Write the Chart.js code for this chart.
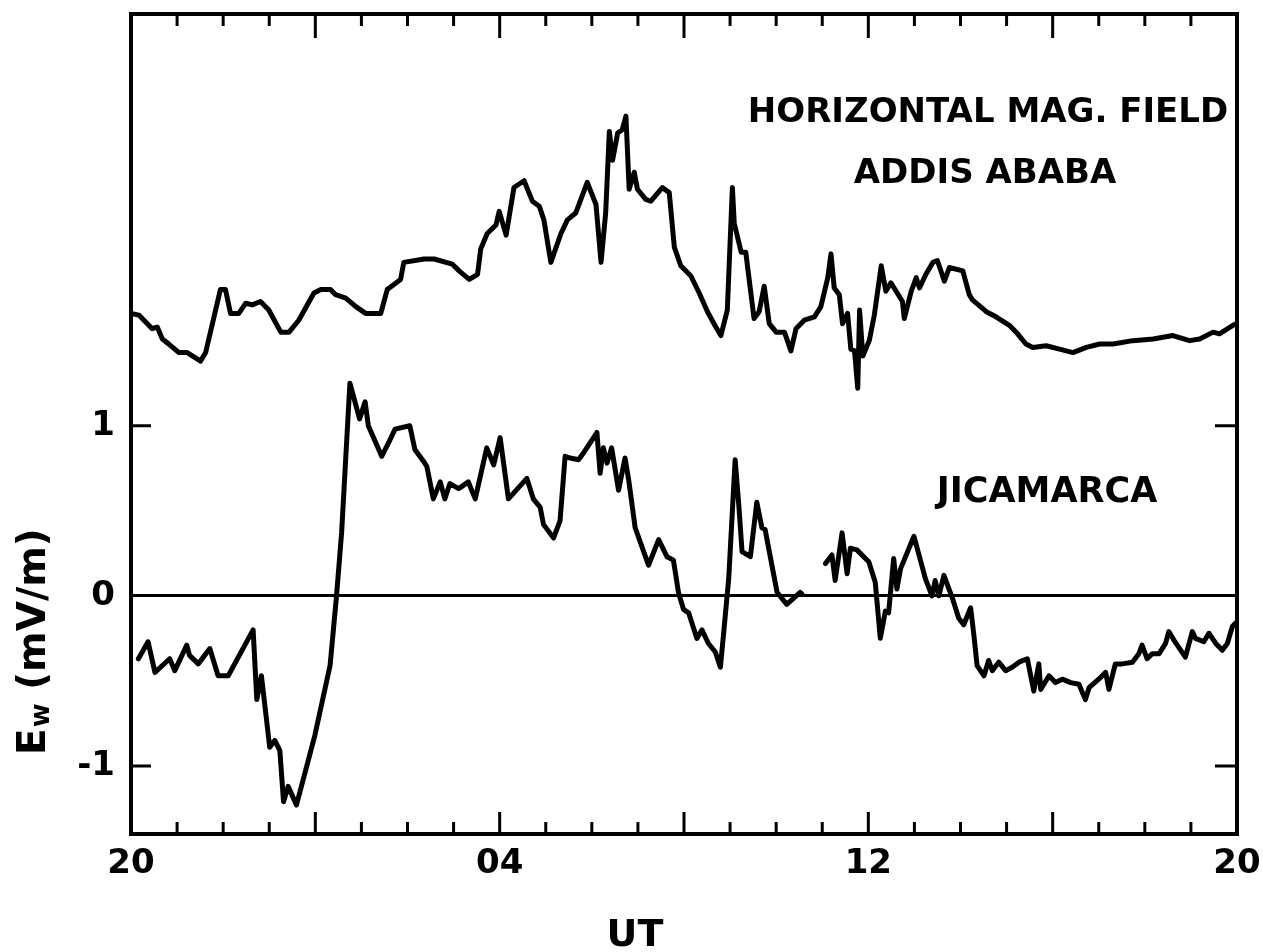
<!DOCTYPE html>
<html>
<head>
<meta charset="utf-8">
<title>Ew Jicamarca and H Addis Ababa</title>
<script src="https://cdn.jsdelivr.net/npm/chart.js@4.4.1/dist/chart.umd.min.js"></script>
<style>
  html, body { margin: 0; padding: 0; background: #fff; }
</style>
</head>
<body>
<canvas id="ewChart" width="1263" height="952"></canvas>
<script>
// Hours counted from 20 UT (0) to 20 UT next day (24)
const tickHours = [0, 8, 16, 24];
const hourLabels = ['20', '04', '12', '20'];
const yTickValues = [-1, 0, 1];
const yTickLabels = ['-1', '0', '1'];

// Horizontal magnetic field, Addis Ababa (drawn on the E axis, arbitrary offset)
const addisHours = [0.0,0.17,0.46,0.57,0.68,0.82,1.04,1.22,1.51,1.62,
  1.94,2.05,2.16,2.34,2.49,2.63,2.81,2.99,3.25,3.43,
  3.64,3.97,4.12,4.33,4.44,4.66,4.88,5.09,5.42,5.56,
  5.85,5.92,6.36,6.58,6.97,7.12,7.34,7.52,7.59,7.73,
  7.92,7.99,8.14,8.31,8.53,8.71,8.86,8.96,9.11,9.33,
  9.47,9.65,9.90,10.09,10.20,10.30,10.38,10.45,10.56,10.66,
  10.74,10.81,10.92,10.99,11.17,11.28,11.53,11.68,11.79,11.93,
  12.15,12.33,12.51,12.69,12.80,12.94,13.05,13.09,13.24,13.34,
  13.52,13.63,13.74,13.85,14.00,14.18,14.32,14.43,14.61,14.83,
  14.97,15.12,15.19,15.26,15.37,15.44,15.55,15.62,15.70,15.77,
  15.81,15.88,16.02,16.13,16.28,16.38,16.49,16.74,16.78,16.93,
  17.04,17.11,17.25,17.40,17.50,17.65,17.76,18.05,18.19,18.26,
  18.56,18.77,19.06,19.24,19.42,19.57,19.86,20.15,20.44,20.73,
  21.02,21.31,21.74,22.18,22.61,22.97,23.19,23.48,23.62,23.91,
  24.0];
const addisH = [1.66,1.65,1.57,1.58,1.51,1.48,1.43,1.43,1.38,1.43,
  1.80,1.80,1.66,1.66,1.72,1.71,1.73,1.68,1.55,1.55,
  1.62,1.78,1.80,1.80,1.77,1.75,1.70,1.66,1.66,1.80,
  1.86,1.96,1.98,1.98,1.95,1.91,1.86,1.89,2.04,2.13,
  2.18,2.26,2.12,2.40,2.44,2.32,2.29,2.21,1.96,2.13,
  2.21,2.25,2.43,2.30,1.96,2.25,2.73,2.56,2.72,2.74,
  2.82,2.39,2.49,2.39,2.33,2.32,2.40,2.37,2.05,1.94,
  1.88,1.78,1.67,1.58,1.53,1.68,2.40,2.19,2.02,2.02,
  1.63,1.67,1.82,1.60,1.55,1.55,1.44,1.57,1.62,1.64,
  1.70,1.87,2.01,1.81,1.77,1.60,1.66,1.45,1.44,1.22,
  1.68,1.41,1.50,1.65,1.94,1.79,1.84,1.73,1.63,1.79,
  1.87,1.81,1.89,1.96,1.97,1.85,1.93,1.91,1.77,1.74,
  1.67,1.64,1.59,1.54,1.48,1.46,1.47,1.45,1.43,1.46,
  1.48,1.48,1.50,1.51,1.53,1.50,1.51,1.55,1.54,1.59,
  1.60];

// Jicamarca westward electric field Ew in mV/m; null marks the data gap
const jicHours = [0.16,0.37,0.52,0.84,0.95,1.21,1.27,1.46,1.71,1.89,
  2.11,2.65,2.73,2.83,3.01,3.12,3.23,3.31,3.41,3.59,
  3.99,4.32,4.46,4.57,4.75,4.96,5.08,5.15,5.44,5.59,
  5.73,6.05,6.16,6.35,6.42,6.56,6.71,6.81,6.92,7.11,
  7.32,7.47,7.72,7.87,8.01,8.19,8.59,8.73,8.88,8.95,
  9.17,9.31,9.42,9.53,9.71,9.82,10.11,10.18,10.25,10.33,
  10.43,10.58,10.72,10.80,10.94,11.23,11.45,11.63,11.77,11.88,
  11.99,12.10,12.28,12.39,12.53,12.68,12.79,12.86,12.97,13.11,
  13.19,13.26,13.44,13.58,13.69,13.76,13.95,14.02,14.23,14.52,
  14.56,14.80,
  15.07,15.21,15.28,15.43,15.54,15.61,15.75,16.01,16.15,16.26,
  16.37,16.44,16.55,16.62,16.70,16.99,17.24,17.38,17.45,17.53,
  17.64,17.82,17.96,18.07,18.22,18.29,18.36,18.51,18.61,18.69,
  18.83,18.98,19.12,19.27,19.45,19.59,19.70,19.74,19.92,20.06,
  20.21,20.39,20.57,20.71,20.79,21.00,21.15,21.22,21.36,21.51,
  21.73,21.87,21.94,22.05,22.16,22.31,22.45,22.52,22.63,22.88,
  23.03,23.10,23.28,23.39,23.54,23.68,23.79,23.90,23.97];
const jicEw = [-0.37,-0.27,-0.45,-0.37,-0.44,-0.29,-0.35,-0.40,-0.31,-0.47,
  -0.47,-0.20,-0.61,-0.47,-0.89,-0.85,-0.91,-1.21,-1.12,-1.23,
  -0.82,-0.41,0.00,0.37,1.25,1.04,1.14,1.00,0.82,0.90,
  0.98,1.00,0.86,0.79,0.76,0.57,0.67,0.57,0.66,0.63,
  0.67,0.57,0.87,0.77,0.93,0.57,0.69,0.57,0.52,0.42,
  0.34,0.44,0.82,0.81,0.80,0.84,0.96,0.72,0.87,0.78,
  0.87,0.62,0.81,0.68,0.40,0.18,0.33,0.23,0.21,0.02,
  -0.08,-0.10,-0.25,-0.20,-0.28,-0.33,-0.42,-0.22,0.10,0.80,
  0.53,0.26,0.23,0.55,0.40,0.39,0.12,0.02,-0.05,0.02,
  0.01,null,
  0.19,0.24,0.09,0.37,0.13,0.28,0.27,0.20,0.08,-0.25,
  -0.09,-0.10,0.22,0.04,0.16,0.35,0.10,0.00,0.09,0.00,
  0.12,-0.01,-0.13,-0.17,-0.07,-0.23,-0.41,-0.47,-0.38,-0.44,
  -0.39,-0.44,-0.42,-0.39,-0.37,-0.56,-0.40,-0.55,-0.47,-0.51,
  -0.49,-0.51,-0.52,-0.61,-0.54,-0.49,-0.45,-0.55,-0.40,-0.40,
  -0.39,-0.34,-0.29,-0.37,-0.34,-0.34,-0.28,-0.21,-0.26,-0.36,
  -0.21,-0.25,-0.27,-0.22,-0.28,-0.32,-0.28,-0.18,-0.16];

const FONT = "'DejaVu Sans', 'Noto Sans', sans-serif";

function toPoints(xs, ys) {
  return xs.map((h, i) => ({ x: h, y: ys[i] }));
}

// box, inward tick marks and the lettering
const frameAndText = {
  id: 'frameAndText',
  afterDraw(chart) {
    const { ctx, chartArea: a, scales: { x, y } } = chart;
    ctx.save();
    ctx.strokeStyle = '#000';
    ctx.fillStyle = '#000';

    ctx.lineWidth = 3;
    ctx.beginPath();
    for (let h = 1; h < 24; h++) {
      const px = x.getPixelForValue(h);
      const major = h % 4 === 0;
      ctx.moveTo(px, a.bottom);
      ctx.lineTo(px, a.bottom - (major ? 22 : 12));
      ctx.moveTo(px, a.top);
      ctx.lineTo(px, a.top + (major ? 24 : 12));
    }
    [-1, 1].forEach(v => {
      const py = y.getPixelForValue(v);
      ctx.moveTo(a.left, py);
      ctx.lineTo(a.left + 20, py);
      ctx.moveTo(a.right, py);
      ctx.lineTo(a.right - 22, py);
    });
    ctx.stroke();

    ctx.lineWidth = 4;
    ctx.strokeRect(a.left, a.top, a.width, a.height);

    ctx.textAlign = 'center';
    ctx.textBaseline = 'alphabetic';
    ctx.font = 'bold 34px ' + FONT;
    ctx.fillText('HORIZONTAL MAG. FIELD', 988, 122);
    ctx.fillText('ADDIS ABABA', 985, 183);
    ctx.font = 'bold 35px ' + FONT;
    ctx.fillText('JICAMARCA', 1047, 502);

    ctx.font = 'bold 38px ' + FONT;
    ctx.fillText('UT', 635, 946);

    // y title, rotated, with subscript w
    ctx.translate(45, 755);
    ctx.rotate(-Math.PI / 2);
    ctx.textAlign = 'left';
    let cx = 0;
    ctx.font = 'bold 39px ' + FONT;
    ctx.fillText('E', cx, 0);
    cx += ctx.measureText('E').width + 1;
    ctx.font = 'bold 26px ' + FONT;
    ctx.fillText('w', cx, 4);
    cx += ctx.measureText('w').width;
    ctx.font = 'bold 39px ' + FONT;
    ctx.fillText(' (mV/m)', cx, 0);
    ctx.restore();
  }
};

new Chart(document.getElementById('ewChart'), {
  type: 'line',
  data: {
    datasets: [
      {
        label: 'Horizontal mag. field, Addis Ababa',
        data: toPoints(addisHours, addisH),
        borderColor: '#000',
        borderWidth: 5,
        pointRadius: 0,
        tension: 0,
        borderJoinStyle: 'round',
        borderCapStyle: 'round',
      },
      {
        label: 'Jicamarca Ew',
        data: toPoints(jicHours, jicEw),
        borderColor: '#000',
        borderWidth: 5,
        pointRadius: 0,
        tension: 0,
        spanGaps: false,
        borderJoinStyle: 'round',
        borderCapStyle: 'round',
      },
    ],
  },
  options: {
    responsive: false,
    animation: false,
    devicePixelRatio: 1,
    layout: { padding: { top: 14, right: 26, bottom: 0, left: 0 } },
    plugins: {
      legend: { display: false },
      tooltip: { enabled: false },
    },
    scales: {
      x: {
        type: 'linear',
        min: 0,
        max: 24,
        afterFit: s => {
          s.height = 118;
          s.paddingLeft = 0;
          s.paddingRight = 0;
        },
        afterBuildTicks: s => { s.ticks = tickHours.map(v => ({ value: v })); },
        ticks: {
          autoSkip: false,
          maxRotation: 0,
          padding: 10,
          color: '#000',
          font: { family: FONT, size: 34, weight: 'bold' },
          callback: (v, i) => hourLabels[i],
        },
        grid: { display: false, drawTicks: false },
        border: { display: false },
      },
      y: {
        min: -1.40,
        max: 3.42,
        afterFit: s => {
          s.width = 131;
          s.paddingTop = 0;
          s.paddingBottom = 0;
        },
        afterBuildTicks: s => { s.ticks = yTickValues.map(v => ({ value: v })); },
        ticks: {
          padding: 16,
          color: '#000',
          font: { family: FONT, size: 34, weight: 'bold' },
          callback: (v, i) => yTickLabels[i],
        },
        grid: {
          drawTicks: false,
          lineWidth: 3,
          color: c => (c.tick && c.tick.value === 0 ? '#000' : 'rgba(0,0,0,0)'),
        },
        border: { display: false },
      },
    },
  },
  plugins: [frameAndText],
});
</script>
</body>
</html>
